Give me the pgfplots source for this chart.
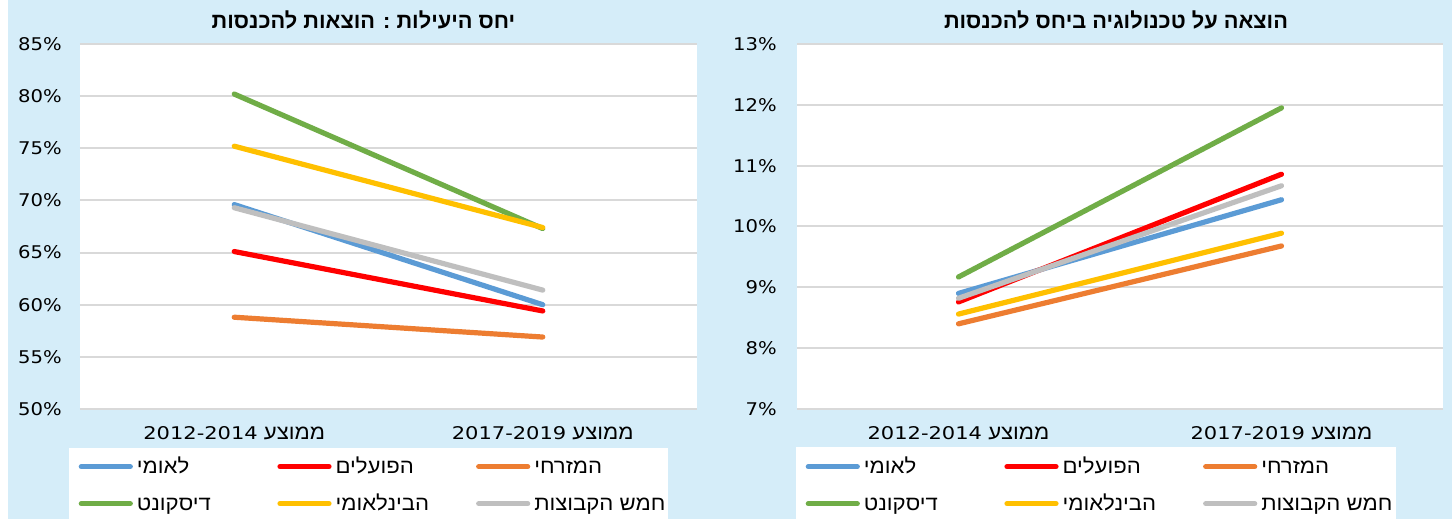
\documentclass[border=0pt]{standalone}
\usepackage{pgfplots}
\pgfplotsset{compat=1.18}
\usepackage{fontspec}
\setmainfont{DejaVu Sans}
\newfontfamily\numfont[FakeStretch=1.12]{DejaVu Sans}
\newfontfamily\xnumfont[FakeStretch=1.2]{DejaVu Sans}
\newfontfamily\hebfont[Script=Hebrew,FakeStretch=1.08]{Liberation Sans}
\newfontfamily\hebtitle[Script=Hebrew]{Liberation Sans Bold}
\TeXXeTstate=1
\newcommand{\tickfont}{\numfont\fontsize{17.5pt}{21pt}\selectfont}
\newcommand{\legfont}{\hebfont\fontsize{20.5pt}{24pt}\selectfont}
\newcommand{\titlefont}{\hebtitle\fontsize{21.8pt}{25pt}\selectfont}
\newcommand{\legtxt}[1]{\makebox[135pt][l]{\legfont\beginR #1\endR}}
\newcommand{\xl}[1]{{\hebfont\fontsize{20.5pt}{24pt}\selectfont\beginR ממוצע \beginL{\xnumfont\fontsize{17.5pt}{21pt}\selectfont #1}\endL\endR}}
\definecolor{cblue}{HTML}{5B9BD5}
\definecolor{cred}{HTML}{FF0000}
\definecolor{corange}{HTML}{ED7D31}
\definecolor{cgreen}{HTML}{70AD47}
\definecolor{cyellow}{HTML}{FFC000}
\definecolor{cgray}{HTML}{BFBFBF}
\definecolor{bgblue}{RGB}{213,237,249}
\definecolor{gridc}{HTML}{D9D9D9}
\pgfplotsset{panel/.style={
  scale only axis, height=365pt,
  anchor=south west,
  xmin=-0.5, xmax=1.5, xtick={0,1},
  xticklabels={\xl{2012-2014},\xl{2017-2019}},
  axis background/.style={fill=white},
  axis line style={draw=none},
  major tick length=0pt,
  ymajorgrids, major grid style={draw=gridc, line width=2pt},
  every axis plot/.append style={line width=5.2pt, line cap=round, line join=round, mark=none},
  yticklabel style={font=\tickfont, inner sep=0pt, anchor=east, xshift=-18pt},
  xticklabel style={inner sep=0pt, anchor=base, yshift=-31pt},
  legend columns=3,
  legend cell align=left,
  legend image code/.code={\draw[##1, line width=5.2pt, line cap=round] (0pt,1.5pt) -- (49pt,1.5pt);},
  legend style={draw=none, fill=none, inner sep=0pt, at={(0,0)}, anchor=north west,
    row sep=19pt,
    nodes={inner sep=0pt, text height=14pt, text depth=4pt},
    /tikz/every odd column/.append style={column sep=4pt},
    /tikz/every even column/.append style={column sep=5.5pt}},
}}
\begin{document}
\begin{tikzpicture}
\useasboundingbox (0,0) rectangle (1452pt,519pt);
\fill[white] (0,0) rectangle (1452pt,519pt);
\fill[bgblue] (8pt,0) rectangle (1452pt,519pt);
\fill[white] (69pt,0) rectangle (668pt,71pt);
\fill[white] (796pt,0) rectangle (1396pt,72pt);
\node[anchor=base, font=\titlefont] at (363.5pt,490.5pt) {\beginR יחס היעילות : הוצאות להכנסות\endR};
\node[anchor=base, font=\titlefont] at (1116pt,490.5pt) {\beginR הוצאה על טכנולוגיה ביחס להכנסות\endR};
\begin{axis}[panel, at={(80pt,110pt)}, width=617pt,
  ymin=50, ymax=85, ytick={50,55,...,85},
  yticklabels={50\%,55\%,60\%,65\%,70\%,75\%,80\%,85\%},
  legend style={xshift=-1.5pt, yshift=-50pt}]
\addplot[cblue] coordinates {(0,69.6) (1,60.0)}; \addlegendentry{\legtxt{לאומי}}
\addplot[cred] coordinates {(0,65.1) (1,59.4)}; \addlegendentry{\legtxt{הפועלים}}
\addplot[corange] coordinates {(0,58.8) (1,56.9)}; \addlegendentry{\legtxt{המזרחי}}
\addplot[cgreen] coordinates {(0,80.2) (1,67.3)}; \addlegendentry{\legtxt{דיסקונט}}
\addplot[cyellow] coordinates {(0,75.2) (1,67.4)}; \addlegendentry{\legtxt{הבינלאומי}}
\addplot[cgray] coordinates {(0,69.3) (1,61.4)}; \addlegendentry{\legtxt{חמש הקבוצות}}
\end{axis}
\begin{axis}[panel, at={(797pt,110pt)}, width=646pt,
  ymin=7, ymax=13, ytick={7,8,...,13},
  yticklabels={7\%,8\%,9\%,10\%,11\%,12\%,13\%},
  yticklabel style={xshift=-2pt},
  legend style={xshift=8.5pt, yshift=-50pt}]
\addplot[cblue] coordinates {(0,8.90) (1,10.44)}; \addlegendentry{\legtxt{לאומי}}
\addplot[cred] coordinates {(0,8.76) (1,10.86)}; \addlegendentry{\legtxt{הפועלים}}
\addplot[corange] coordinates {(0,8.40) (1,9.68)}; \addlegendentry{\legtxt{המזרחי}}
\addplot[cgreen] coordinates {(0,9.17) (1,11.95)}; \addlegendentry{\legtxt{דיסקונט}}
\addplot[cyellow] coordinates {(0,8.56) (1,9.89)}; \addlegendentry{\legtxt{הבינלאומי}}
\addplot[cgray] coordinates {(0,8.82) (1,10.67)}; \addlegendentry{\legtxt{חמש הקבוצות}}
\end{axis}
\end{tikzpicture}
\end{document}
